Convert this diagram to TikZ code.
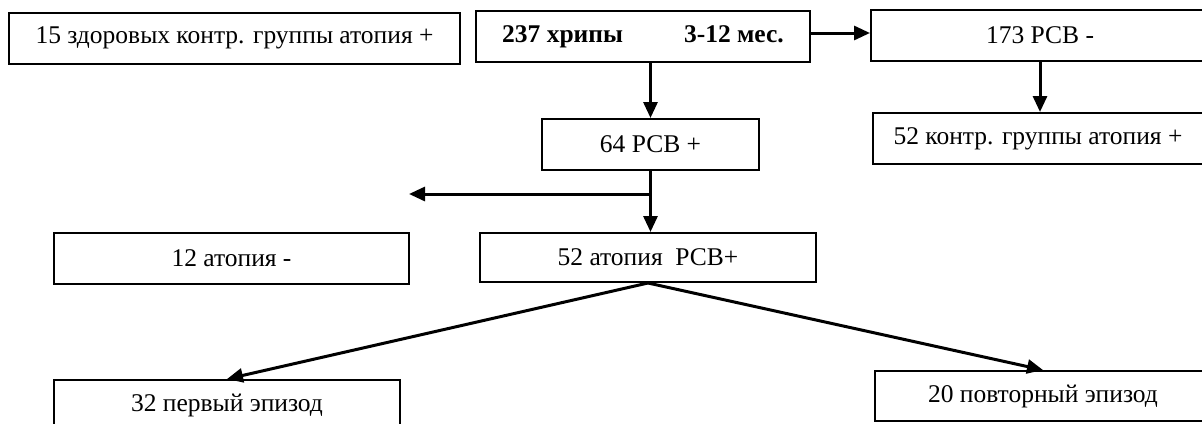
\documentclass[tikz,border=0pt]{standalone}
\usepackage{fontspec}
\setmainfont{Liberation Serif}
\usetikzlibrary{arrows.meta,positioning}
\tikzset{
  cell/.style={draw=black,line width=2pt,fill=white,minimum height=51pt,inner sep=0pt,font=\fontsize{25.5}{30}\selectfont},
  link/.style={-{Triangle[length=16pt,width=14pt]},line width=3pt}
}
\begin{document}
\begin{tikzpicture}[x=1pt,y=-1pt]
\useasboundingbox (0,0) rectangle (1202,423);
\clip (0,0) rectangle (1202,423);
\node[cell,minimum width=451pt] (healthy) at (234.5,38) {15 здоровых контр. группы атопия +};
\node[cell,minimum width=334pt] (wheeze) at (643,36.5) {\textbf{237 хрипы}\hspace{61pt}\textbf{3-12 мес.}};
\node[cell,minimum width=338pt] (rsvneg) at (1040,35.5) {173 РСВ -};
\node[cell,minimum width=217pt] (rsvpos) at (650.5,144.5) {64 РСВ +};
\node[cell,minimum width=330pt] (ctrl) at (1038,138.5) {52 контр. группы атопия +};
\node[cell,minimum width=355pt] (atneg) at (231.5,258.5) {12 атопия -};
\node[cell,minimum width=336pt,minimum height=49pt] (atpos) at (648,257.5) {52 атопия \ РСВ+};
\node[cell,minimum width=346pt] (first) at (227,405.5) {32 первый эпизод};
\node[cell,minimum width=336pt,minimum height=50pt] (again) at (1043,396) {20 повторный эпизод};
% connectors
\draw[link] ([yshift=3.5pt]wheeze.east) -- ([yshift=2.5pt]rsvneg.west);
\draw[link] (rsvpos.north |- wheeze.south) -- (rsvpos.north);
\draw[link] (rsvneg.south) -- (rsvneg.south |- ctrl.north);
\draw[link] (rsvpos.south) -- (rsvpos.south |- atpos.north);
\coordinate (fork) at (rsvpos.south |- 0,194);
\coordinate (stub) at (409,194);
\draw[link] (fork) -- (stub);
\draw[link] (atpos.south) -- (first.north);
\draw[link] (atpos.south) -- (again.north);
\end{tikzpicture}
\end{document}
